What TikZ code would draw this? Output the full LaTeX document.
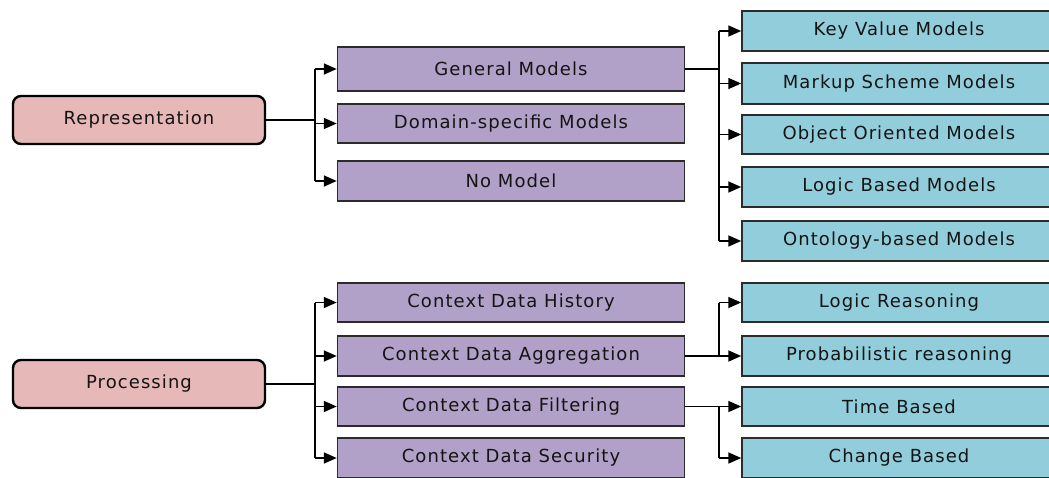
\documentclass[tikz,border=0pt]{standalone}
\usepackage{fontspec}
\setmainfont{DejaVu Sans}[LetterSpace=6]
\usetikzlibrary{arrows.meta}
\definecolor{pinkfill}{HTML}{E6B8B7}
\definecolor{purplefill}{HTML}{B1A0C7}
\definecolor{bluefill}{HTML}{92CDDC}
\definecolor{edgegray}{HTML}{2B2B2B}
\definecolor{txt}{HTML}{141414}
\tikzset{
  rootbox/.style={draw=black, line width=2.4pt, fill=pinkfill, rounded corners=8pt,
    minimum width=252pt, minimum height=48pt, inner sep=0pt, text=txt, font=\fontsize{18}{21}\selectfont},
  midbox/.style={draw=edgegray, line width=1.5pt, fill=purplefill,
    minimum width=347pt, inner sep=0pt, text=txt, font=\fontsize{18}{21}\selectfont},
  leafbox/.style={draw=edgegray, line width=1.5pt, fill=bluefill,
    minimum width=314pt, inner sep=0pt, text=txt, font=\fontsize{18}{21}\selectfont},
  wire/.style={draw=black, line width=1.7pt},
  arr/.style={wire, -{Triangle[length=13pt,width=11pt]}}
}
\begin{document}
\begin{tikzpicture}[x=1pt,y=-1pt]
\useasboundingbox (0,0) rectangle (1049,477);
\clip (0,0) rectangle (1049,477);
% buses
\coordinate (busA) at (315,0);
\coordinate (busB) at (719,0);
% top half
\node[rootbox] (rep) at (139,120) {Representation};
\node[midbox, minimum height=44pt] (gen) at (511,69) {General Models};
\node[midbox, minimum height=39pt] (dom) at (511,123.5) {Domain-specific Models};
\node[midbox, minimum height=40pt] (nom) at (511,181) {No Model};
\node[leafbox, minimum height=40pt] (kv) at (899,31) {Key Value Models};
\node[leafbox, minimum height=41pt] (mk) at (899,83.5) {Markup Scheme Models};
\node[leafbox, minimum height=39pt] (oo) at (899,134.5) {Object Oriented Models};
\node[leafbox, minimum height=40pt] (lb) at (899,187) {Logic Based Models};
\node[leafbox, minimum height=40pt] (ob) at (899,241) {Ontology-based Models};
% bottom half
\node[rootbox] (proc) at (139,384) {Processing};
\node[midbox, minimum height=39pt] (hist) at (511,302.5) {Context Data History};
\node[midbox, minimum height=40pt] (aggr) at (511,356) {Context Data Aggregation};
\node[midbox, minimum height=39pt] (filt) at (511,406.5) {Context Data Filtering};
\node[midbox, minimum height=40pt] (sec) at (511,458) {Context Data Security};
\node[leafbox, minimum height=39pt] (lr) at (899,302.5) {Logic Reasoning};
\node[leafbox, minimum height=40pt] (pr) at (899,356) {Probabilistic reasoning};
\node[leafbox, minimum height=39pt] (tb) at (899,406.5) {Time Based};
\node[leafbox, minimum height=40pt] (cb) at (899,458) {Change Based};
% connectors: Representation
\draw[wire] (rep.east) -- (rep.east -| busA);
\draw[wire] (busA |- gen.west) -- (busA |- nom.west);
\foreach \t in {gen,dom,nom} \draw[arr] (busA |- \t.west) -- (\t.west);
% General Models -> leaves
\draw[wire] (gen.east) -- (gen.east -| busB);
\draw[wire] (busB |- kv.west) -- (busB |- ob.west);
\foreach \t in {kv,mk,oo,lb,ob} \draw[arr] (busB |- \t.west) -- (\t.west);
% Processing
\draw[wire] (proc.east) -- (proc.east -| busA);
\draw[wire] (busA |- hist.west) -- (busA |- sec.west);
\foreach \t in {hist,aggr,filt,sec} \draw[arr] (busA |- \t.west) -- (\t.west);
% Aggregation -> reasoning
\draw[wire] (aggr.east) -- (aggr.east -| busB);
\draw[wire] (busB |- lr.west) -- (busB |- pr.west);
\foreach \t in {lr,pr} \draw[arr] (busB |- \t.west) -- (\t.west);
% Filtering -> time/change
\draw[wire] (filt.east) -- (filt.east -| busB);
\draw[wire] (busB |- tb.west) -- (busB |- cb.west);
\foreach \t in {tb,cb} \draw[arr] (busB |- \t.west) -- (\t.west);
\end{tikzpicture}
\end{document}
